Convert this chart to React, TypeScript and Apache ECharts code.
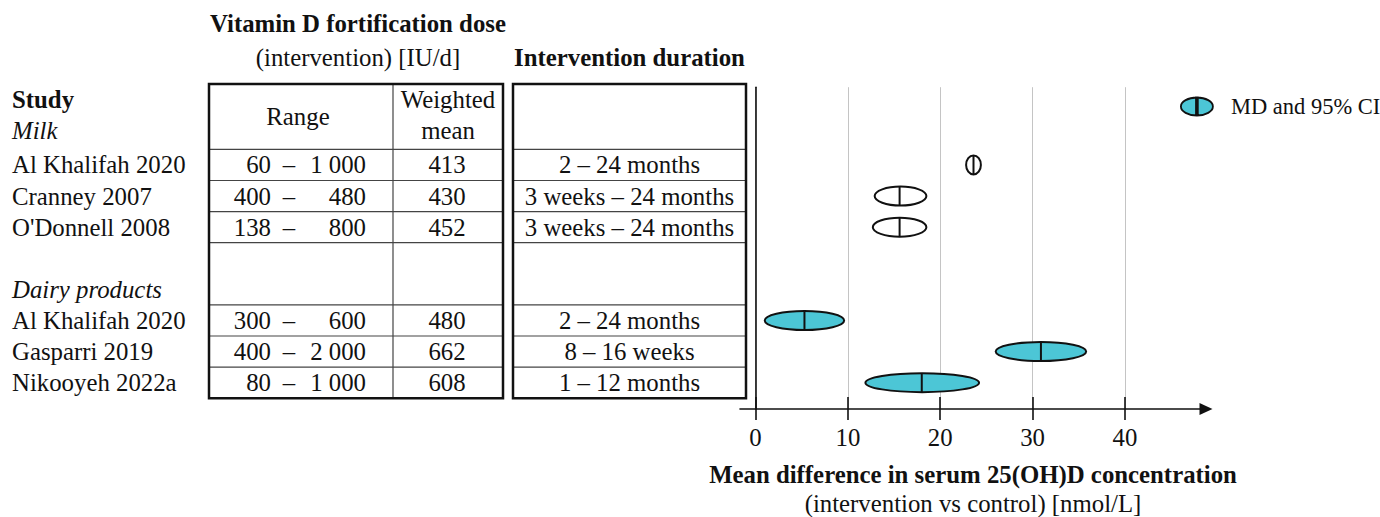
import React, { useEffect, useRef } from "react";
import * as echarts from "echarts";

// ---------------- data ----------------
const studyNames = [
  "Al Khalifah 2020",
  "Cranney 2007",
  "O'Donnell 2008",
  "Al Khalifah 2020",
  "Gasparri 2019",
  "Nikooyeh 2022a",
];
const studyRows = [2, 3, 4, 7, 8, 9];
const studyGroup = [0, 0, 0, 1, 1, 1];
const groupNames = ["Milk", "Dairy products"];
const groupRows = [0.9, 6];
const doseMin = [60, 400, 138, 300, 400, 80];
const doseMax = [1000, 480, 800, 600, 2000, 1000];
const doseWeightedMean = [413, 430, 452, 480, 662, 608];
const durations = [
  "2 – 24 months",
  "3 weeks – 24 months",
  "3 weeks – 24 months",
  "2 – 24 months",
  "8 – 16 weeks",
  "1 – 12 months",
];
const meanDifference = [23.6, 15.6, 15.6, 5.3, 30.9, 18.0];
const ciLower = [22.8, 12.9, 12.7, 1.0, 26.0, 11.9];
const ciUpper = [24.4, 18.5, 18.5, 9.6, 35.8, 24.2];
const xTickValues = [0, 10, 20, 30, 40];

// ---------------- style / layout ----------------
const SERIF = "'Liberation Serif', 'Times New Roman', Times, serif";
const INK = "#111111";
const CYAN = "#4cc6d6";
const GRID_LINE = "#c4c4c4";
const FS = 24.8;

const ROW_MIN = -0.5;
const ROW_MAX = 9.85;
const GRID_TOP = 87.2;
const GRID_H = 321.9;
const X_MIN = -1.678;
const X_MAX = 48.77;
const ELLIPSE_RY = 9.5;

// table layout (grid 1 x-axis is in pixels)
const T1_L = 209, T1_SPLIT = 393, T1_R = 503, T2_L = 513, T2_R = 746;
const TABLE_TOP = -0.6, TABLE_BOTTOM = 9.5;
const TABLE_INNER = [1.5, 2.5, 3.5, 4.5, 6.5, 7.5, 8.5];
const NAME_X = 12, LOW_RIGHT = 271, DASH_X = 289, HIGH_RIGHT = 366, MEAN_X = 447, DUR_X = 629.5;

const ICON_PATH =
  "path://M1,10A16,9 0 1,1 33,10A16,9 0 1,1 1,10Z M16.1,1L17.9,1L17.9,19L16.1,19Z";

const fmt = (n: number) =>
  n >= 1000 ? `${Math.floor(n / 1000)} ${String(n % 1000).padStart(3, "0")}` : String(n);

const T = (text: string, x: number, y: number, align: string, weight = "normal", fstyle = "normal", size = FS) => ({
  type: "text",
  style: {
    text,
    x,
    y,
    align,
    textAlign: align,
    verticalAlign: "middle",
    textVerticalAlign: "middle",
    font: `${fstyle} ${weight} ${size}px ${SERIF}`,
    fill: INK,
  },
});

export default function App() {
  const ref = useRef<HTMLDivElement>(null);

  useEffect(() => {
    if (!ref.current) return;
    const chart = echarts.init(ref.current, undefined, { renderer: "svg" });

    const forestData = meanDifference.map((m, i) => [m, ciLower[i], ciUpper[i], studyRows[i], studyGroup[i]]);
    const tableData = studyRows.map((r, i) => [i, r]);

    const option: any = {
      animation: false,
      backgroundColor: "#ffffff",
      legend: {
        show: true,
        data: [{ name: "MD and 95% CI", icon: ICON_PATH }],
        left: 1180,
        top: 95,
        padding: 0,
        itemWidth: 34,
        itemHeight: 18,
        selectedMode: false,
        itemStyle: { color: CYAN, borderColor: INK, borderWidth: 1.8 },
        textStyle: { fontFamily: SERIF, fontSize: 22.5, color: INK, padding: [0, 0, 0, 12] },
      },
      grid: [
        { left: 740, top: GRID_TOP, width: 1206 - 740, height: GRID_H, outerBoundsMode: "none", containLabel: false },
        { left: 0, top: GRID_TOP, width: 760, height: GRID_H, outerBoundsMode: "none", containLabel: false },
      ],
      xAxis: [
        {
          type: "value",
          gridIndex: 0,
          min: X_MIN,
          max: X_MAX,
          position: "bottom",
          axisLine: {
            show: true,
            onZero: false,
            symbol: ["none", "triangle"],
            symbolSize: [12, 13],
            lineStyle: { color: INK, width: 1.6 },
          },
          axisTick: { show: true, customValues: xTickValues, length: 11, lineStyle: { color: INK, width: 1.6 } },
          axisLabel: {
            customValues: xTickValues,
            margin: 16,
            fontFamily: SERIF,
            fontSize: FS,
            lineHeight: 24,
            color: INK,
          },
          splitLine: { show: true, customValues: xTickValues, lineStyle: { color: GRID_LINE, width: 1 } },
          name:
            "{t|Mean difference in serum 25(OH)D concentration}\n{s|(intervention vs control) [nmol/L]}",
          nameLocation: "middle",
          nameGap: 48,
          nameMoveOverlap: false,
          nameTextStyle: {
            rich: {
              t: { fontFamily: SERIF, fontSize: FS, fontWeight: "bold", color: INK, lineHeight: 34 },
              s: { fontFamily: SERIF, fontSize: FS, color: INK, lineHeight: 24 },
            },
          },
        },
        {
          type: "value",
          gridIndex: 0,
          min: X_MIN,
          max: X_MAX,
          position: "bottom",
          axisLine: { show: false, onZero: false },
          axisTick: { show: true, inside: true, customValues: xTickValues, length: 12, lineStyle: { color: INK, width: 1.6 } },
          axisLabel: { show: false },
          splitLine: { show: false },
        },
        { type: "value", gridIndex: 1, min: 0, max: 760, show: false },
      ],
      yAxis: [
        {
          type: "value",
          gridIndex: 0,
          inverse: true,
          min: ROW_MIN,
          max: ROW_MAX,
          axisLine: { show: true, onZero: true, lineStyle: { color: INK, width: 1.6 } },
          axisTick: { show: false },
          axisLabel: { show: false },
          splitLine: { show: false },
        },
        { type: "value", gridIndex: 1, inverse: true, min: ROW_MIN, max: ROW_MAX, show: false },
      ],
      series: [
        {
          type: "custom",
          name: "MD and 95% CI",
          xAxisIndex: 0,
          yAxisIndex: 0,
          silent: true,
          z: 10,
          itemStyle: { color: CYAN, borderColor: INK, borderWidth: 2 },
          encode: { x: [0, 1, 2], y: 3 },
          data: forestData,
          renderItem: (params: any, api: any) => {
            const md = api.value(0);
            const lo = api.value(1);
            const hi = api.value(2);
            const row = api.value(3);
            const g = api.value(4);
            const pLo = api.coord([lo, row]);
            const pHi = api.coord([hi, row]);
            const pMd = api.coord([md, row]);
            return {
              type: "group",
              children: [
                {
                  type: "ellipse",
                  shape: { cx: (pLo[0] + pHi[0]) / 2, cy: pMd[1], rx: (pHi[0] - pLo[0]) / 2, ry: ELLIPSE_RY },
                  style: { fill: g === 1 ? CYAN : "#ffffff", stroke: INK, lineWidth: 2 },
                },
                {
                  type: "line",
                  shape: { x1: pMd[0], y1: pMd[1] - ELLIPSE_RY, x2: pMd[0], y2: pMd[1] + ELLIPSE_RY },
                  style: { stroke: INK, lineWidth: 2 },
                },
              ],
            };
          },
        },
        {
          type: "custom",
          name: "table",
          xAxisIndex: 2,
          yAxisIndex: 1,
          silent: true,
          data: tableData,
          renderItem: (params: any, api: any) => {
            const i = params.dataIndex;
            const row = api.value(1);
            const X = (px: number) => api.coord([px, row])[0];
            const y = api.coord([0, row])[1];
            return {
              type: "group",
              children: [
                T(studyNames[i], X(NAME_X), y, "left"),
                T(fmt(doseMin[i]), X(LOW_RIGHT), y, "right"),
                T("–", X(DASH_X), y, "center"),
                T(fmt(doseMax[i]), X(HIGH_RIGHT), y, "right"),
                T(String(doseWeightedMean[i]), X(MEAN_X), y, "center"),
                T(durations[i], X(DUR_X), y, "center"),
              ],
            };
          },
        },
        {
          type: "custom",
          name: "frame",
          xAxisIndex: 2,
          yAxisIndex: 1,
          silent: true,
          data: [[0, 0]],
          renderItem: (params: any, api: any) => {
            const P = (px: number, row: number) => api.coord([px, row]);
            const children: any[] = [];
            const hline = (x1: number, x2: number, row: number) => {
              const a = P(x1, row), b = P(x2, row);
              children.push({
                type: "line",
                shape: { x1: a[0], y1: a[1], x2: b[0], y2: b[1] },
                style: { stroke: "#444444", lineWidth: 1.2 },
              });
            };
            TABLE_INNER.forEach((r) => {
              hline(T1_L, T1_R, r);
              hline(T2_L, T2_R, r);
            });
            const s1 = P(T1_SPLIT, TABLE_TOP), s2 = P(T1_SPLIT, TABLE_BOTTOM);
            children.push({
              type: "line",
              shape: { x1: s1[0], y1: s1[1], x2: s2[0], y2: s2[1] },
              style: { stroke: "#444444", lineWidth: 1.2 },
            });
            [[T1_L, T1_R], [T2_L, T2_R]].forEach(([l, r]) => {
              const a = P(l, TABLE_TOP), b = P(r, TABLE_BOTTOM);
              children.push({
                type: "rect",
                shape: { x: a[0], y: a[1], width: b[0] - a[0], height: b[1] - a[1] },
                style: { fill: "none", stroke: INK, lineWidth: 2.5 },
              });
            });
            const add = (text: string, px: number, row: number, align: string, w = "normal", fs = "normal") => {
              const p = P(px, row);
              children.push(T(text, p[0], p[1], align, w, fs));
            };
            add("Vitamin D fortification dose", 358, -2.56, "center", "bold");
            add("(intervention) [IU/d]", 358, -1.47, "center");
            add("Intervention duration", (T2_L + T2_R) / 2, -1.47, "center", "bold");
            add("Range", 298, 0.43, "center");
            add("Weighted", (T1_SPLIT + T1_R) / 2, -0.09, "center");
            add("mean", (T1_SPLIT + T1_R) / 2, 0.9, "center");
            add("Study", NAME_X, -0.1, "left", "bold");
            groupNames.forEach((g, k) => add(g, NAME_X, groupRows[k], "left", "normal", "italic"));
            return { type: "group", children };
          },
        },
      ],
    };

    chart.setOption(option);
    return () => chart.dispose();
  }, []);

  return (
    <div
      ref={ref}
      style={{ position: "absolute", left: 0, top: 0, width: 1380, height: 517, background: "#fff" }}
    />
  );
}
